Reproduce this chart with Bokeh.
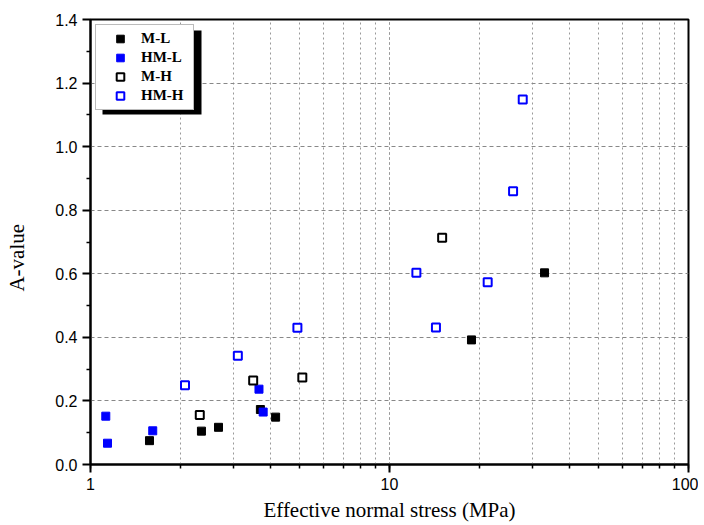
from bokeh.plotting import figure
from bokeh.models import (Legend, LegendItem, LogTicker, FixedTicker,
                          NumeralTickFormatter, PrintfTickFormatter, BoxAnnotation, Range1d)
from bokeh.embed import file_html
from bokeh.resources import INLINE

# ---- data ----
ml_x = [1.575, 2.35, 2.68, 3.70, 4.16, 18.8, 33.0]
ml_y = [0.075, 0.105, 0.117, 0.173, 0.149, 0.392, 0.603]

hml_x = [1.125, 1.14, 1.615, 3.66, 3.78]
hml_y = [0.152, 0.067, 0.106, 0.237, 0.165]

mh_x = [2.32, 3.50, 5.11, 15.0]
mh_y = [0.156, 0.264, 0.274, 0.713]

hmh_x = [2.07, 3.11, 4.92, 12.3, 14.3, 21.3, 25.9, 27.9]
hmh_y = [0.249, 0.342, 0.430, 0.603, 0.431, 0.573, 0.860, 1.148]

y_major = [0.0, 0.2, 0.4, 0.6, 0.8, 1.0, 1.2, 1.4]
y_minor = [0.1, 0.3, 0.5, 0.7, 0.9, 1.1, 1.3]

x_label = "Effective normal stress (MPa)"
y_label = "A-value"
series_names = ["M-L", "HM-L", "M-H", "HM-H"]

W, H = 698, 525
FL, FT, FR, FB = 90, 19, 688, 464   # frame in canvas px

p = figure(width=W, height=H, x_axis_type="log", output_backend="svg",
           toolbar_location=None, x_range=Range1d(1, 100), y_range=Range1d(0, 1.4),
           min_border_left=FL, min_border_top=FT, min_border_right=W - FR,
           min_border_bottom=H - FB)
p.background_fill_color = "white"
p.border_fill_color = "white"
p.outline_line_color = "black"
p.outline_line_width = 2

# axes
p.xaxis.ticker = LogTicker(num_minor_ticks=10)
p.xaxis.formatter = NumeralTickFormatter(format="0")
p.yaxis.ticker = FixedTicker(ticks=y_major, minor_ticks=y_minor)
p.yaxis.formatter = PrintfTickFormatter(format="%.1f")
for ax in (p.xaxis[0], p.yaxis[0]):
    ax.axis_line_width = 2
    ax.axis_line_color = "black"
    ax.major_tick_line_width = 2
    ax.minor_tick_line_width = 1.5
    ax.major_tick_out = 8
    ax.major_tick_in = 0
    ax.minor_tick_out = 4
    ax.minor_tick_in = 0
    ax.major_label_text_font = "Liberation Sans"
    ax.major_label_text_font_size = "16px"
    ax.major_label_text_color = "black"
    ax.axis_label_text_font = "Liberation Serif"
    ax.axis_label_text_font_size = "21px"
    ax.axis_label_text_font_style = "normal"
    ax.axis_label_text_color = "black"
p.xaxis.axis_label = x_label
p.xaxis.major_label_standoff = 5
p.xaxis.axis_label_standoff = 5
# trailing no-break spaces move the visible title a little below the frame centre
p.yaxis.axis_label = y_label + "\u00a0" * 6
p.yaxis.major_label_standoff = 5
p.yaxis.axis_label_standoff = 23

# grid
p.xgrid.grid_line_color = "#999999"
p.xgrid.grid_line_dash = "2 3"
p.xgrid.grid_line_width = 1
p.xgrid.minor_grid_line_color = "#999999"
p.xgrid.minor_grid_line_dash = "2 3"
p.ygrid.grid_line_color = "#888888"
p.ygrid.grid_line_dash = "4 3"
p.ygrid.grid_line_width = 1

# legend shadow (decoration, in frame pixels)
fw, fh = FR - FL, FB - FT
LX, LY, LW, LH = 6, 5, 99, 84
SH = 6
def px_to_x(px):
    return 10 ** (px / fw * 2)
def py_to_y(py):
    return (fh - py) / fh * 1.4
shadow = BoxAnnotation(left=px_to_x(LX + SH), right=px_to_x(LX + LW + SH),
                       top=py_to_y(LY + SH), bottom=py_to_y(LY + LH + SH),
                       fill_color="black", fill_alpha=1.0, line_color=None)
p.add_layout(shadow)

r1 = p.scatter(ml_x, ml_y, marker="square", size=8, fill_color="black", line_color="black")
r2 = p.scatter(hml_x, hml_y, marker="square", size=8, fill_color="#0000ff", line_color="#0000ff")
r3 = p.scatter(mh_x, mh_y, marker="square", size=8, fill_color="white", line_color="black", line_width=2)
r4 = p.scatter(hmh_x, hmh_y, marker="square", size=8, fill_color="white", line_color="#0000ff", line_width=2)

legend = Legend(items=[LegendItem(label=series_names[0], renderers=[r1]),
                       LegendItem(label=series_names[1], renderers=[r2]),
                       LegendItem(label=series_names[2], renderers=[r3]),
                       LegendItem(label=series_names[3], renderers=[r4])],
                location="top_left")
legend.margin = 5
legend.padding = 4
legend.spacing = 0
legend.glyph_width = 40
legend.glyph_height = 19
legend.label_height = 19
legend.label_width = 48
legend.label_standoff = 1
legend.label_text_font = "Liberation Serif"
legend.label_text_font_style = "bold"
legend.label_text_font_size = "15px"
legend.label_text_color = "black"
legend.border_line_color = "#777777"
legend.border_line_width = 1.5
legend.background_fill_color = "white"
legend.background_fill_alpha = 1.0
p.add_layout(legend)

open("out.html", "w").write(file_html(p, INLINE))
